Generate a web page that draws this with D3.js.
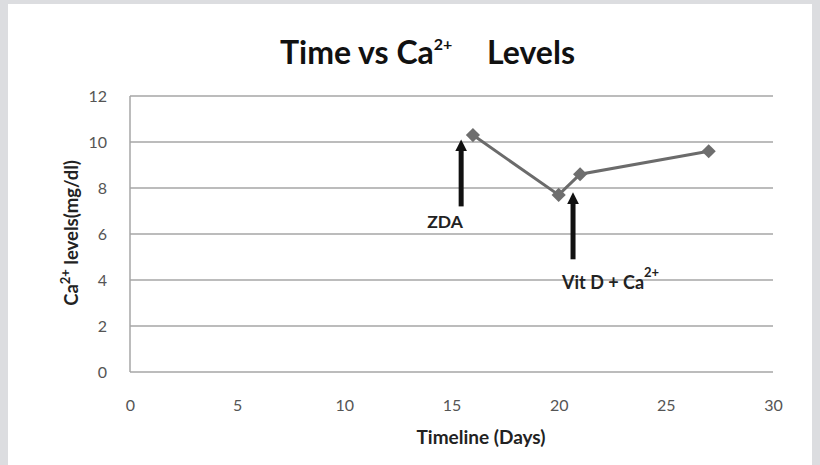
<!DOCTYPE html>
<html><head><meta charset="utf-8">
<script src="https://cdn.jsdelivr.net/npm/d3@7"></script>
<style>
html,body{margin:0;padding:0;background:#dcdde0;}
svg{display:block;}
</style></head>
<body>
<svg id="chart" width="820" height="465"></svg>
<script>
const days = [16, 20, 21, 27];
const calcium = [10.3, 7.7, 8.6, 9.6];
const xTicks = [0, 5, 10, 15, 20, 25, 30];
const yTicks = [0, 2, 4, 6, 8, 10, 12];
const arrowLabels = ["ZDA", "Vit D + Ca"];
const arrowX = [15.45, 20.67];
const arrowTip = [10.0, 7.7];
const arrowBase = [7.2, 4.9];

const svg = d3.select("#chart");
const font = "Lato, 'Open Sans', sans-serif";
svg.append("rect").attr("x", 8).attr("y", 4).attr("width", 804).attr("height", 461).attr("fill", "#ffffff");

const x = d3.scaleLinear().domain([0, 30]).range([130, 773]);
const y = d3.scaleLinear().domain([0, 12]).range([372, 96]);

// gridlines
svg.append("g").selectAll("line").data(yTicks).join("line")
  .attr("x1", x(0)).attr("x2", x(30))
  .attr("y1", d => y(d)).attr("y2", d => y(d))
  .attr("stroke", "#a6a6a6").attr("stroke-width", 1.5);
svg.append("line").attr("x1", x(0)).attr("x2", x(0)).attr("y1", y(0)).attr("y2", y(12))
  .attr("stroke", "#a6a6a6").attr("stroke-width", 1.5);

// axes
const yAxis = svg.append("g").attr("transform", `translate(${x(0)},0)`)
  .call(d3.axisLeft(y).tickValues(yTicks).tickSize(0).tickPadding(23));
const xAxis = svg.append("g").attr("transform", `translate(0,${y(0)})`)
  .call(d3.axisBottom(x).tickValues(xTicks).tickSize(0).tickPadding(28));
[yAxis, xAxis].forEach(a => {
  a.select(".domain").remove();
  a.selectAll("text").attr("font-family", font).attr("font-size", 16).attr("fill", "#555");
});

// line
const pts = days.map((d, i) => [d, calcium[i]]);
svg.append("path")
  .datum(pts)
  .attr("fill", "none").attr("stroke", "#6b6b6b").attr("stroke-width", 3)
  .attr("d", d3.line().x(d => x(d[0])).y(d => y(d[1])));
svg.append("g").selectAll("path").data(pts).join("path")
  .attr("transform", d => `translate(${x(d[0])},${y(d[1])}) rotate(45)`)
  .attr("d", d3.symbol(d3.symbolSquare, 100))
  .attr("fill", "#6e6e6e");

// arrows
svg.append("defs").append("marker").attr("id", "ah")
  .attr("viewBox", "0 0 10 10").attr("refX", 2).attr("refY", 5)
  .attr("markerWidth", 2.4).attr("markerHeight", 2.4).attr("orient", "auto")
  .append("path").attr("d", "M0,0 L10,5 L0,10 Z").attr("fill", "#111");
svg.append("g").selectAll("line").data(arrowX).join("line")
  .attr("x1", d => x(d)).attr("x2", d => x(d))
  .attr("y1", (d, i) => y(arrowBase[i])).attr("y2", (d, i) => y(arrowTip[i]) + 7)
  .attr("stroke", "#111").attr("stroke-width", 5).attr("marker-end", "url(#ah)");

svg.append("text").attr("x", 445).attr("y", 228).attr("text-anchor", "middle")
  .attr("font-family", font).attr("font-weight", "bold").attr("font-size", 17.5).attr("fill", "#222")
  .text(arrowLabels[0]);
const vt = svg.append("text").attr("x", 562).attr("y", 289)
  .attr("font-family", font).attr("font-weight", "bold").attr("font-size", 18).attr("fill", "#222");
vt.append("tspan").text(arrowLabels[1]);
vt.append("tspan").attr("dy", -12).attr("font-size", 13).text("2+");

// title
const t = svg.append("text").attr("x", 280).attr("y", 64)
  .attr("font-family", font).attr("font-weight", "bold").attr("font-size", 32).attr("fill", "#111");
t.append("tspan").text("Time vs Ca");
t.append("tspan").attr("dy", -14).attr("font-size", 16).text("2+");
t.append("tspan").attr("x", 487).attr("dy", 14).text("Levels");

// axis titles
svg.append("text").attr("x", 481).attr("y", 444).attr("text-anchor", "middle")
  .attr("font-family", font).attr("font-weight", "bold").attr("font-size", 19).attr("fill", "#222")
  .text("Timeline (Days)");
const yt = svg.append("text").attr("transform", "translate(78,233) rotate(-90)").attr("text-anchor", "middle")
  .attr("font-family", font).attr("font-weight", "bold").attr("font-size", 18.5).attr("fill", "#222");
yt.append("tspan").text("Ca");
yt.append("tspan").attr("dy", -8).attr("font-size", 13).text("2+");
yt.append("tspan").attr("dy", 8).text(" levels(mg/dl)");
</script>
</body></html>
